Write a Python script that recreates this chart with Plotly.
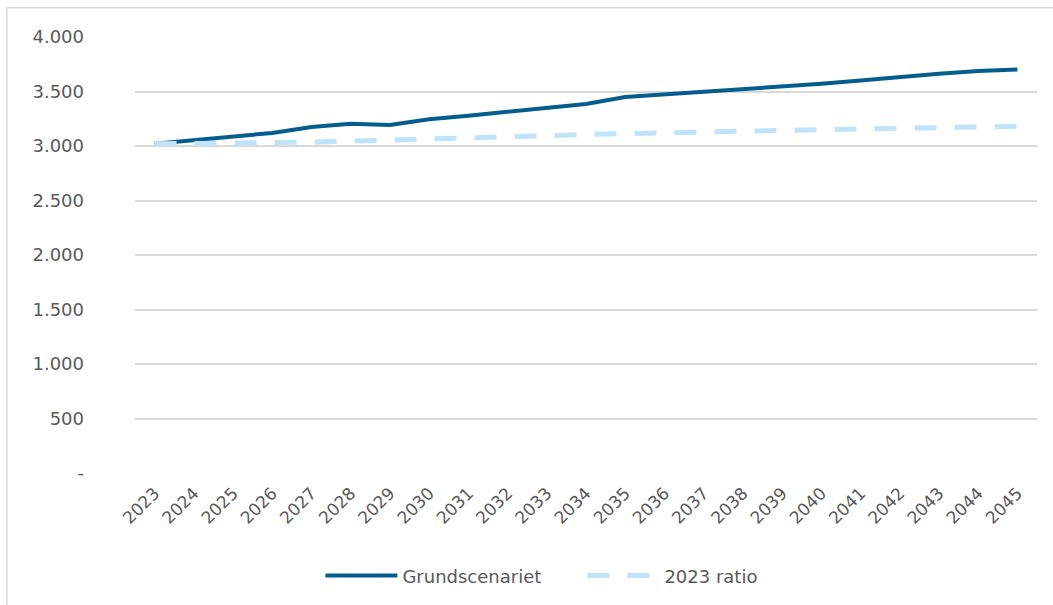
import plotly.graph_objects as go

years = [str(y) for y in range(2023, 2046)]
grundscenariet = [3020, 3053, 3090, 3120, 3175, 3205, 3192, 3245, 3278, 3312, 3350, 3385,
                  3449, 3473, 3495, 3519, 3547, 3571, 3601, 3636, 3662, 3687, 3702]
ratio_2023 = [3020, 3021, 3023, 3027, 3035, 3044, 3056, 3065, 3077, 3086, 3095, 3105,
              3114, 3123, 3129, 3135, 3144, 3150, 3156, 3163, 3169, 3175, 3181]
ytick_vals = [0, 500, 1000, 1500, 2000, 2500, 3000, 3500, 4000]
ytick_text = ["-", "500", "1.000", "1.500", "2.000", "2.500", "3.000", "3.500", "4.000"]

DARK = "#035D8F"
LIGHT = "#BFE3FA"
TEXT = "#595959"
FONT = "DejaVu Sans"

fig = go.Figure()
fig.add_trace(go.Scatter(x=years, y=grundscenariet, mode="lines", name="Grundscenariet",
                         line=dict(color=DARK, width=4)))
fig.add_trace(go.Scatter(x=years, y=ratio_2023, mode="lines", name="2023 ratio",
                         line=dict(color=LIGHT, width=5, dash="22px,18px")))

fig.update_layout(
    width=1053, height=605,
    margin=dict(l=135, r=16, t=37, b=131),
    paper_bgcolor="white", plot_bgcolor="white",
    font=dict(family=FONT, size=18, color=TEXT),
    showlegend=True,
    legend=dict(orientation="h", x=0.496, xanchor="center", y=-0.233, yanchor="middle",
                font=dict(family=FONT, size=18, color=TEXT), itemwidth=72,
                entrywidth=175, entrywidthmode="pixels",
                bgcolor="rgba(0,0,0,0)"),
    xaxis=dict(type="category", range=[-0.5, len(years) - 0.5], showgrid=False,
               zeroline=False, showline=False,
               tickangle=-45, ticks="", ticklabelstandoff=6,
               tickfont=dict(family=FONT, size=17, color=TEXT)),
    yaxis=dict(range=[0, 4000], tickvals=ytick_vals, ticktext=ytick_text,
               showgrid=True, gridcolor="#D9D9D9", gridwidth=1.5, zeroline=False,
               showline=False, ticks="", ticklabelstandoff=50,
               tickfont=dict(family=FONT, size=18, color=TEXT)),
    shapes=[
        dict(type="line", xref="paper", yref="paper", x0=-0.142, x1=1.1, y0=1.0672, y1=1.0672,
             line=dict(color="#D9D9D9", width=1.5)),
        dict(type="line", xref="paper", yref="paper", x0=-0.142, x1=-0.142, y0=1.0672, y1=-0.4,
             line=dict(color="#D9D9D9", width=1.5)),
    ],
)

fig.write_html("out.html", config={"displayModeBar": False},
               post_script="document.body.style.margin='0';")
